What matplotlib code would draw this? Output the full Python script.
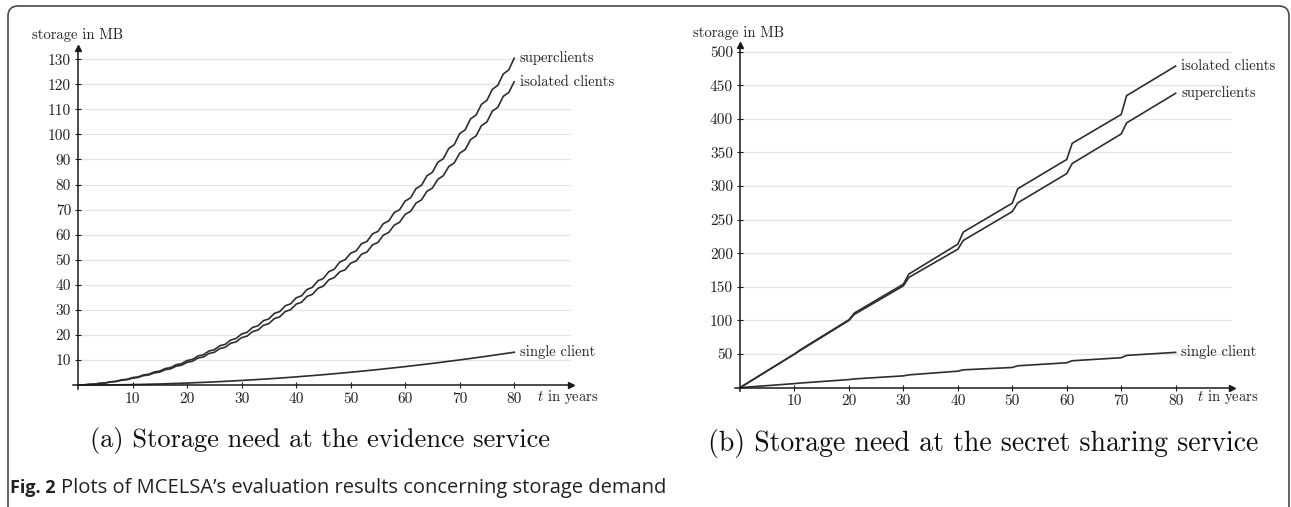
import matplotlib.pyplot as plt
from matplotlib.patches import FancyBboxPatch

plt.rcParams['font.family'] = 'cmr10'
plt.rcParams['mathtext.fontset'] = 'cm'
plt.rcParams['axes.unicode_minus'] = False

# (a) evidence service, one value per year
years_a = list(range(81))
super_a = [0, 0.07, 0.3, 0.41, 0.74, 0.89, 1.34, 1.53, 2.1, 2.33, 3.0, 3.27, 4.06, 4.36,
           5.26, 5.6, 6.62, 7.0, 8.14, 8.56, 9.8, 10.26, 11.62, 12.11, 13.58, 14.11, 15.7,
           16.27, 17.98, 18.59, 20.4, 21.05, 22.98, 23.66, 25.7, 26.42, 28.58, 29.34, 31.62,
           32.42, 34.8, 35.64, 38.14, 39.01, 41.62, 42.53, 45.26, 46.21, 49.06, 50.05, 52.6,
           53.5, 56.4, 57.3, 60.3, 61.3, 64.4, 65.5, 68.8, 70.0, 73.4, 74.7, 78.4, 79.7,
           83.5, 84.9, 88.9, 90.3, 94.4, 95.9, 100.3, 101.8, 106.2, 107.7, 112.0, 113.6,
           118.0, 119.6, 124.1, 125.7, 130.4]
isolated_a = [0, 0.07, 0.28, 0.38, 0.69, 0.83, 1.24, 1.42, 1.95, 2.16, 2.78, 3.03, 3.77, 4.05,
              4.88, 5.2, 6.14, 6.5, 7.55, 7.94, 9.09, 9.52, 10.78, 11.24, 12.6, 13.09, 14.57,
              15.1, 16.69, 17.25, 18.93, 19.53, 21.33, 21.96, 23.85, 24.52, 26.52, 27.23,
              29.34, 30.09, 32.29, 33.07, 35.39, 36.2, 38.62, 39.47, 42.0, 42.88, 45.2,
              46.0, 48.6, 49.5, 52.2, 53.1, 55.9, 56.9, 59.8, 60.9, 63.8, 65.0, 68.1, 69.3,
              72.6, 73.9, 77.3, 78.6, 82.1, 83.5, 87.2, 88.6, 92.5, 93.9, 97.9, 99.4, 103.5,
              105.0, 109.3, 110.8, 115.2, 116.7, 121.0]
years_single_a = [0, 5, 10, 15, 20, 25, 30, 35, 40, 45, 50, 55, 60, 65, 70, 75, 80]
single_a = [0, 0.05, 0.2, 0.46, 0.82, 1.28, 1.85, 2.5, 3.28, 4.15, 5.13, 6.2, 7.38, 8.66,
            10.05, 11.53, 13.1]

# (b) secret sharing service
years_b = [0, 10, 11, 20, 21, 30, 31, 40, 41, 50, 51, 60, 61, 70, 71, 80]
isolated_b = [0, 50, 56, 101, 111, 154, 169, 213.5, 231.5, 274.5, 296, 339.5, 363.5, 406.5,
              434.5, 478.5]
super_b = [0, 50, 55, 100, 109, 151.5, 164, 206, 219, 262, 275, 318.5, 333.5, 377.5, 394, 438]
single_b = [0, 6, 6.8, 12, 13, 17.5, 19, 24.5, 26.5, 30, 32.5, 37, 40, 44.5, 48, 52.5]

xticks = [10, 20, 30, 40, 50, 60, 70, 80]
yticks_a = [10, 20, 30, 40, 50, 60, 70, 80, 90, 100, 110, 120, 130]
yticks_b = [50, 100, 150, 200, 250, 300, 350, 400, 450, 500]

W, H = 1291, 507
fig = plt.figure(figsize=(W / 100, H / 100), dpi=100)


def px(x, y):
    return x / W, 1 - y / H


line_c = '#2e2e2e'
axis_c = '#1a1a1a'
text_c = '#222222'


def setup(ax, ylim, yticks, xend):
    ax.set_xlim(-1, xend)
    ax.set_ylim(*ylim)
    ax.patch.set_alpha(0)
    for s in ['top', 'right']:
        ax.spines[s].set_visible(False)
    ax.spines['left'].set_position(('data', 0))
    ax.spines['bottom'].set_position(('data', 0))
    for s in ['left', 'bottom']:
        ax.spines[s].set_color(axis_c)
        ax.spines[s].set_linewidth(1.1)
    ax.set_xticks(xticks)
    ax.set_yticks(yticks)
    ax.set_xticklabels([str(v) for v in xticks])
    ax.set_yticklabels([str(v) for v in yticks])
    ax.tick_params(direction='inout', length=4, width=0.8, color=axis_c,
                   labelsize=11, labelcolor=text_c, pad=3)
    ax.hlines(yticks, 0, xend, color='#e4e4e4', lw=0.9, zorder=0)
    ax.plot(1, 0, '>', color=axis_c, ms=4, transform=ax.get_yaxis_transform(), clip_on=False)
    ax.plot(0, 1, '^', color=axis_c, ms=4, transform=ax.get_xaxis_transform(), clip_on=False)


def label(ax, x, y, text):
    ax.annotate(text, xy=(x, y), xytext=(4, 0), textcoords='offset points',
                va='center', ha='left', fontsize=10.5, color=text_c)


ax1 = fig.add_axes([0.0562, 0.233, 0.386, 0.672])
setup(ax1, (-1.5, 134.4), yticks_a, 90.4)
ax1.plot(years_a, super_a, color=line_c, lw=1.2)
ax1.plot(years_a, isolated_a, color=line_c, lw=1.2)
ax1.plot(years_single_a, single_a, color=line_c, lw=1.2)
label(ax1, years_a[-1], super_a[-1], 'superclients')
label(ax1, years_a[-1], isolated_a[-1], 'isolated clients')
label(ax1, years_single_a[-1], single_a[-1], 'single client')

ax2 = fig.add_axes([0.569, 0.2288, 0.3855, 0.6826])
setup(ax2, (-5, 510), yticks_b, 90.4)
ax2.plot(years_b, isolated_b, color=line_c, lw=1.2)
ax2.plot(years_b, super_b, color=line_c, lw=1.2)
ax2.plot(years_b, single_b, color=line_c, lw=1.2)
label(ax2, years_b[-1], isolated_b[-1], 'isolated clients')
label(ax2, years_b[-1], super_b[-1], 'superclients')
label(ax2, years_b[-1], single_b[-1], 'single client')

fig.text(*px(32, 35), 'storage in MB', fontsize=10.5, va='center', ha='left', color=text_c)
fig.text(*px(693, 33), 'storage in MB', fontsize=10.5, va='center', ha='left', color=text_c)
fig.text(*px(537, 397), r'$t$ in years', fontsize=10.5, va='center', ha='left', color=text_c)
fig.text(*px(1197, 397), r'$t$ in years', fontsize=10.5, va='center', ha='left', color=text_c)

fig.text(*px(320, 440), '(a) Storage need at the evidence service', fontsize=19,
         ha='center', va='center', color='#111111')
fig.text(*px(983, 443), '(b) Storage need at the secret sharing service', fontsize=20,
         ha='center', va='center', color='#111111')

# caption: bold "Fig. 2" then the plain text right after it
fig_lbl = fig.text(*px(10, 488), 'Fig. 2', fontsize=13, fontweight='bold', family='Open Sans',
                   ha='left', va='center', color=text_c)
renderer = fig.canvas.get_renderer()
bb = fig_lbl.get_window_extent(renderer)
fig.text(bb.x1 / W + 5 / W, 1 - 488 / H,
         'Plots of MCELSA\u2019s evaluation results concerning storage demand',
         fontsize=14.5, family='Open Sans', ha='left', va='center', color=text_c)

frame = FancyBboxPatch((0.08, -0.3), 12.81, 5.31, boxstyle='round,pad=0,rounding_size=0.1',
                       transform=fig.dpi_scale_trans, fill=False, ec='#4a4a4a', lw=1.2,
                       clip_on=False)
fig.patches.append(frame)

fig.savefig('out.png', dpi=100)
